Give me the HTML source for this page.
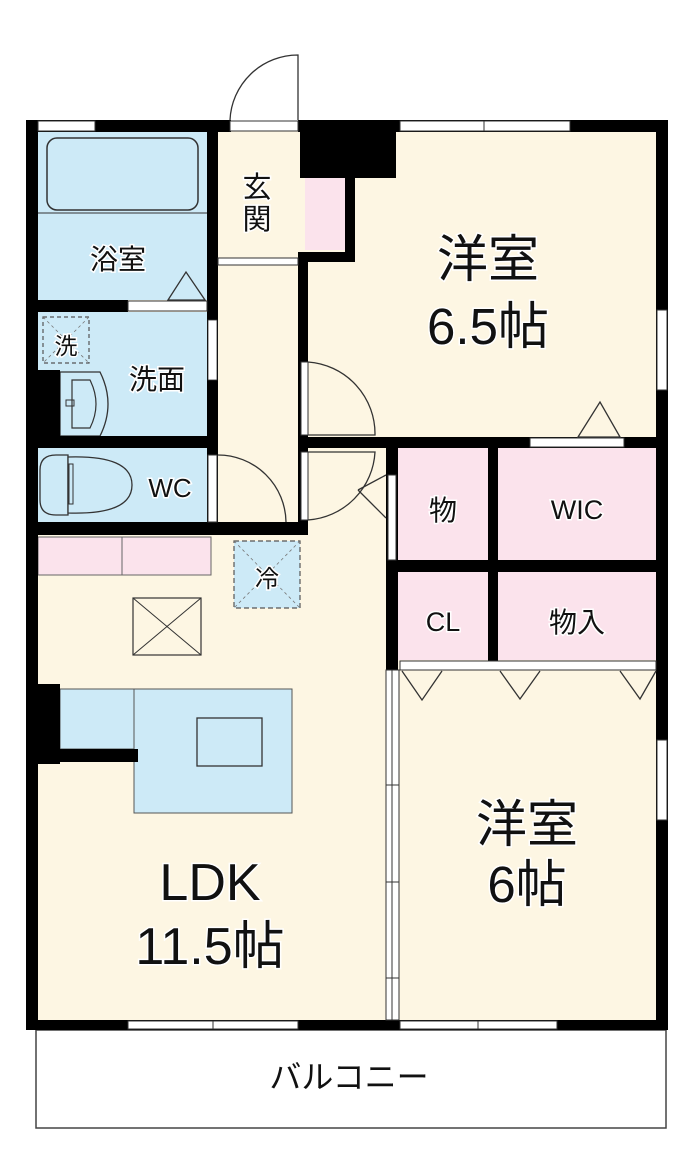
<!DOCTYPE html>
<html><head><meta charset="utf-8"><style>
html,body{margin:0;padding:0;background:#fff;}
svg{display:block;}
text{font-family:"Liberation Sans","Noto Sans CJK JP",sans-serif;fill:#111;stroke:#fff;stroke-width:3;paint-order:stroke;}
</style></head><body>
<svg width="700" height="1172" viewBox="0 0 700 1172" xmlns="http://www.w3.org/2000/svg">
<rect x="36" y="1030" width="630" height="98" fill="#fff" stroke="#444" stroke-width="1.5"/>
<text x="349" y="1088" font-size="32" text-anchor="middle">バルコニー</text>

<rect x="32" y="126" width="630" height="900" fill="#fdf6e3"/>
<rect x="38" y="132" width="170" height="168" fill="#cdeaf7"/>
<rect x="38" y="312" width="170" height="124" fill="#cdeaf7"/>
<rect x="38" y="448" width="170" height="74" fill="#cdeaf7"/>
<rect x="305" y="178" width="42" height="72" fill="#fbe3ec"/>
<rect x="398" y="447" width="90" height="113" fill="#fbe3ec"/>
<rect x="498" y="447" width="158" height="113" fill="#fbe3ec"/>
<rect x="398" y="572" width="90" height="88" fill="#fbe3ec"/>
<rect x="498" y="572" width="158" height="88" fill="#fbe3ec"/>
<rect x="38" y="537" width="84" height="38" fill="#fbe3ec" stroke="#666" stroke-width="1"/>
<rect x="122" y="537" width="89" height="38" fill="#fbe3ec" stroke="#666" stroke-width="1"/>

<rect x="47" y="138" width="151" height="72" rx="10" fill="#cdeaf7" stroke="#333" stroke-width="1.5"/>
<line x1="38" y1="213" x2="208" y2="213" stroke="#333" stroke-width="1"/>
<polygon points="168,300 186,272 205,300" fill="none" stroke="#333" stroke-width="1.3"/>
<rect x="43" y="317" width="46" height="46" fill="none" stroke="#555" stroke-width="1.2" stroke-dasharray="4,3"/>
<line x1="43" y1="317" x2="89" y2="363" stroke="#777" stroke-width="0.8" stroke-dasharray="3,3"/>
<line x1="89" y1="317" x2="43" y2="363" stroke="#777" stroke-width="0.8" stroke-dasharray="3,3"/>
<text x="66" y="354" font-size="23" text-anchor="middle">洗</text>
<path d="M60 372 H100 Q116 404 100 436 H60 Z" fill="#cdeaf7" stroke="#333" stroke-width="1.3"/>
<path d="M72 380 H90 Q102 404 90 428 H72 Z" fill="none" stroke="#333" stroke-width="1.2"/>
<rect x="66" y="400" width="8" height="6" fill="none" stroke="#333" stroke-width="1"/>
<path d="M56 455 H68 V515 H56 Q40 515 40 500 V470 Q40 455 56 455 Z" fill="#cdeaf7" stroke="#333" stroke-width="1.3"/>
<path d="M68 457 Q132 455 132 485 Q132 515 68 513 Z" fill="#cdeaf7" stroke="#333" stroke-width="1.3"/>
<rect x="69" y="464" width="4" height="40" fill="none" stroke="#333" stroke-width="1"/>

<rect x="234" y="541" width="66" height="67" fill="#cdeaf7" stroke="#555" stroke-width="1.2" stroke-dasharray="5,3"/>
<line x1="234" y1="541" x2="300" y2="608" stroke="#777" stroke-width="0.8" stroke-dasharray="3,3"/>
<line x1="300" y1="541" x2="234" y2="608" stroke="#777" stroke-width="0.8" stroke-dasharray="3,3"/>
<text x="267" y="587" font-size="24" text-anchor="middle">冷</text>
<rect x="133" y="598" width="68" height="57" fill="none" stroke="#333" stroke-width="1.2"/>
<line x1="133" y1="598" x2="201" y2="655" stroke="#333" stroke-width="1"/>
<line x1="201" y1="598" x2="133" y2="655" stroke="#333" stroke-width="1"/>
<rect x="60" y="689" width="75" height="60" fill="#cdeaf7" stroke="#555" stroke-width="1"/>
<rect x="134" y="689" width="158" height="124" fill="#cdeaf7" stroke="#555" stroke-width="1"/>
<rect x="197" y="718" width="65" height="48" fill="none" stroke="#333" stroke-width="1.3"/>

<g fill="#000">
<rect x="26" y="120" width="12" height="910"/>
<rect x="26" y="120" width="205" height="12"/>
<rect x="298" y="120" width="370" height="12"/>
<rect x="656" y="120" width="12" height="910"/>
<rect x="26" y="1020" width="642" height="10"/>
<rect x="300" y="120" width="96" height="58"/>
<rect x="345" y="170" width="10" height="92"/>
<rect x="298" y="252" width="57" height="10"/>
<rect x="298" y="252" width="10" height="275"/>
<rect x="207" y="132" width="11" height="395"/>
<rect x="38" y="300" width="90" height="12"/>
<rect x="26" y="436" width="192" height="12"/>
<rect x="26" y="522" width="282" height="13"/>
<rect x="26" y="370" width="34" height="66"/>
<rect x="298" y="437" width="358" height="11"/>
<rect x="386" y="447" width="12" height="223"/>
<rect x="488" y="447" width="10" height="223"/>
<rect x="386" y="560" width="270" height="12"/>
<rect x="26" y="684" width="34" height="80"/>
<rect x="38" y="749" width="100" height="13"/>
</g>

<g fill="#fff" stroke="#333" stroke-width="1">
<rect x="38" y="121" width="57" height="10"/>
<rect x="400" y="121" width="170" height="10"/>
<rect x="657" y="310" width="10" height="80"/>
<rect x="657" y="740" width="10" height="80"/>
<rect x="128" y="1021" width="170" height="8"/>
<rect x="400" y="1021" width="157" height="8"/>
<rect x="128" y="301" width="79" height="10"/>
<rect x="530" y="438" width="94" height="9"/>
<rect x="400" y="661" width="256" height="9"/>
<rect x="230" y="121" width="68" height="10"/>
</g>
<line x1="484" y1="121" x2="484" y2="131" stroke="#333"/>
<line x1="213" y1="1021" x2="213" y2="1029" stroke="#333"/>
<line x1="478" y1="1021" x2="478" y2="1029" stroke="#333"/>
<path d="M230 120 A68 68 0 0 1 298 55 V120" fill="none" stroke="#333" stroke-width="1.3"/>
<rect x="218" y="258" width="80" height="7" fill="#fff" stroke="#333" stroke-width="1"/>
<polygon points="578,437 600,402 620,437" fill="none" stroke="#333" stroke-width="1.3"/>
<g fill="none" stroke="#333" stroke-width="1.3">
<polyline points="402,671 422,700 442,671"/>
<polyline points="500,671 520,699 540,671"/>
<polyline points="620,671 640,699 656,671"/>
</g>
<g fill="none" stroke="#333" stroke-width="1.3">
<path d="M308 362 A72 72 0 0 1 375 435 H308"/>
<path d="M308 452 H375 A72 72 0 0 1 308 520"/>
<line x1="358" y1="490" x2="386" y2="475"/>
<line x1="358" y1="490" x2="386" y2="518"/>
<path d="M218 455 A68 68 0 0 1 286 522"/>
</g>
<rect x="301" y="362" width="7" height="73" fill="#fff" stroke="#333" stroke-width="1"/>
<rect x="301" y="452" width="7" height="68" fill="#fff" stroke="#333" stroke-width="1"/>
<rect x="388" y="475" width="8" height="85" fill="#fff" stroke="#333" stroke-width="1"/>
<rect x="208" y="455" width="9" height="67" fill="#fff" stroke="#333" stroke-width="1"/>
<rect x="208" y="320" width="9" height="60" fill="#fff" stroke="#333" stroke-width="0.8"/>
<rect x="386" y="670" width="13" height="350" fill="#fff" stroke="#333" stroke-width="1"/>
<line x1="392" y1="670" x2="392" y2="1020" stroke="#333" stroke-width="1"/>
<line x1="386" y1="785" x2="399" y2="785" stroke="#333"/>
<line x1="386" y1="882" x2="399" y2="882" stroke="#333"/>
<line x1="386" y1="978" x2="399" y2="978" stroke="#333"/>

<text x="257" y="197" font-size="29" text-anchor="middle">玄</text>
<text x="257" y="229" font-size="29" text-anchor="middle">関</text>
<text x="118" y="269" font-size="28" text-anchor="middle">浴室</text>
<text x="157" y="389" font-size="28" text-anchor="middle">洗面</text>
<text x="170" y="497" font-size="26" text-anchor="middle">WC</text>
<text x="488" y="277" font-size="51" text-anchor="middle">洋室</text>
<text x="488" y="344" font-size="51" text-anchor="middle">6.5帖</text>
<text x="443" y="520" font-size="28" text-anchor="middle">物</text>
<text x="577" y="519" font-size="27" text-anchor="middle">WIC</text>
<text x="443" y="631" font-size="27" text-anchor="middle">CL</text>
<text x="577" y="632" font-size="28" text-anchor="middle">物入</text>
<text x="527" y="842" font-size="51" text-anchor="middle">洋室</text>
<text x="527" y="902" font-size="51" text-anchor="middle">6帖</text>
<text x="210" y="900" font-size="52" text-anchor="middle">LDK</text>
<text x="210" y="964" font-size="52" text-anchor="middle">11.5帖</text>
</svg>
</body></html>
